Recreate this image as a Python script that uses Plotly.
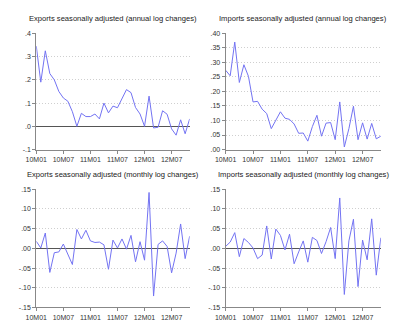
import plotly.graph_objects as go

# Monthly observations, 2010M01 .. 2012M11
months = [f"{y}M{m:02d}" for y in (10, 11, 12) for m in range(1, 13)][:35]
tick_months = ["10M01", "10M07", "11M01", "11M07", "12M01", "12M07"]

exports_annual = [0.345, 0.19, 0.325, 0.227, 0.20, 0.15, 0.122, 0.108, 0.063, 0.0,
                  0.056, 0.042, 0.042, 0.053, 0.032, 0.10, 0.058, 0.087, 0.08, 0.116,
                  0.158, 0.145, 0.081, 0.053, 0.0, 0.13, -0.007, -0.004, 0.067, 0.052,
                  -0.011, -0.038, 0.028, -0.032, 0.032]
imports_annual = [0.273, 0.254, 0.37, 0.231, 0.292, 0.252, 0.164, 0.166, 0.139, 0.124,
                  0.072, 0.101, 0.13, 0.108, 0.104, 0.088, 0.056, 0.057, 0.029, 0.079,
                  0.118, 0.046, 0.091, 0.093, 0.034, 0.164, 0.009, 0.072, 0.149, 0.034,
                  0.092, 0.036, 0.09, 0.037, 0.046]
exports_monthly = [0.018, 0.001, 0.039, -0.061, -0.011, -0.009, 0.011, -0.015, -0.041, 0.048,
                   0.024, 0.046, 0.019, 0.015, 0.016, 0.009, -0.053, 0.021, 0.001, 0.024,
                   -0.002, 0.033, -0.034, 0.017, -0.030, 0.142, -0.121, 0.010, 0.019, 0.005,
                   -0.062, -0.012, 0.062, -0.026, 0.031]
imports_monthly = [0.005, 0.016, 0.040, -0.021, 0.025, 0.015, 0.001, -0.026, -0.017, 0.057,
                   -0.027, 0.049, 0.033, -0.004, 0.036, -0.039, -0.009, 0.019, -0.035, 0.028,
                   0.020, -0.013, 0.017, 0.053, -0.026, 0.128, -0.117, 0.019, 0.074, -0.097,
                   0.021, -0.029, 0.075, -0.068, 0.027]

titles = ["Exports seasonally adjusted (annual log changes)",
          "Imports seasonally adjusted (annual log changes)",
          "Exports seasonally adjusted (monthly log changes)",
          "Imports seasonally adjusted (monthly log changes)"]

yticks_ex_annual = [-0.1, 0.0, 0.1, 0.2, 0.3, 0.4]
ytext_ex_annual = ["-.1", ".0", ".1", ".2", ".3", ".4"]
yticks_im_annual = [0.0, 0.05, 0.10, 0.15, 0.20, 0.25, 0.30, 0.35, 0.40]
ytext_im_annual = [".00", ".05", ".10", ".15", ".20", ".25", ".30", ".35", ".40"]
yticks_monthly = [-0.15, -0.10, -0.05, 0.0, 0.05, 0.10, 0.15]
ytext_monthly = ["-.15", "-.10", "-.05", ".00", ".05", ".10", ".15"]

W, H = 400, 332
# panel pixel boxes: (x0, x1, y_top, y_bottom)
boxes = [(26, 183.7, 30, 148.7), (220.7, 380.3, 30, 148.7),
         (26, 183.7, 189.3, 310), (220.7, 380.3, 189.3, 310)]
series = [exports_annual, imports_annual, exports_monthly, imports_monthly]
yspecs = [(yticks_ex_annual, ytext_ex_annual, [-0.1, 0.4]),
          (yticks_im_annual, ytext_im_annual, [0.0, 0.4]),
          (yticks_monthly, ytext_monthly, [-0.15, 0.15]),
          (yticks_monthly, ytext_monthly, [-0.15, 0.15])]

fig = go.Figure()
layout = dict(width=W, height=H, margin=dict(l=0, r=0, t=0, b=0),
              paper_bgcolor="white", plot_bgcolor="white", showlegend=False,
              font=dict(family="Liberation Sans, Arial, sans-serif", color="#222"))
annotations = []
tick_font = dict(size=7, color="#333")

for i, (vals, box, ys) in enumerate(zip(series, boxes, yspecs)):
    n = "" if i == 0 else str(i + 1)
    x0, x1, yt, yb = box
    fig.add_trace(go.Scatter(x=months, y=vals, mode="lines",
                             line=dict(color="#7373f2", width=1),
                             xaxis="x" + n, yaxis="y" + n))
    layout["xaxis" + n] = dict(
        domain=[x0 / W, x1 / W], anchor="y" + n, type="category",
        categoryorder="array", categoryarray=months, range=[0, 34],
        tickmode="array", tickvals=tick_months, ticktext=tick_months,
        ticks="outside", ticklen=3, tickcolor="#888", showgrid=False,
        showline=True, linecolor="#888", linewidth=1, tickfont=tick_font,
        zeroline=False)
    layout["yaxis" + n] = dict(
        domain=[1 - yb / H, 1 - yt / H], anchor="x" + n, range=ys[2],
        tickmode="array", tickvals=ys[0], ticktext=ys[1],
        ticks="outside", ticklen=3, tickcolor="#888",
        showline=True, linecolor="#888", linewidth=1, tickfont=tick_font,
        showgrid=True, gridcolor="#cfcfcf", griddash="1px,2px", gridwidth=1,
        zeroline=ys[2][0] < 0, zerolinecolor="#555", zerolinewidth=1)
    annotations.append(dict(text=titles[i], x=(x0 + x1) / 2 / W, y=1 - (yt - 15) / H,
                            xref="paper", yref="paper", showarrow=False,
                            xanchor="center", yanchor="middle",
                            font=dict(size=7.6, color="#222")))

layout["annotations"] = annotations
fig.update_layout(**layout)
fig.write_html("out.html")
